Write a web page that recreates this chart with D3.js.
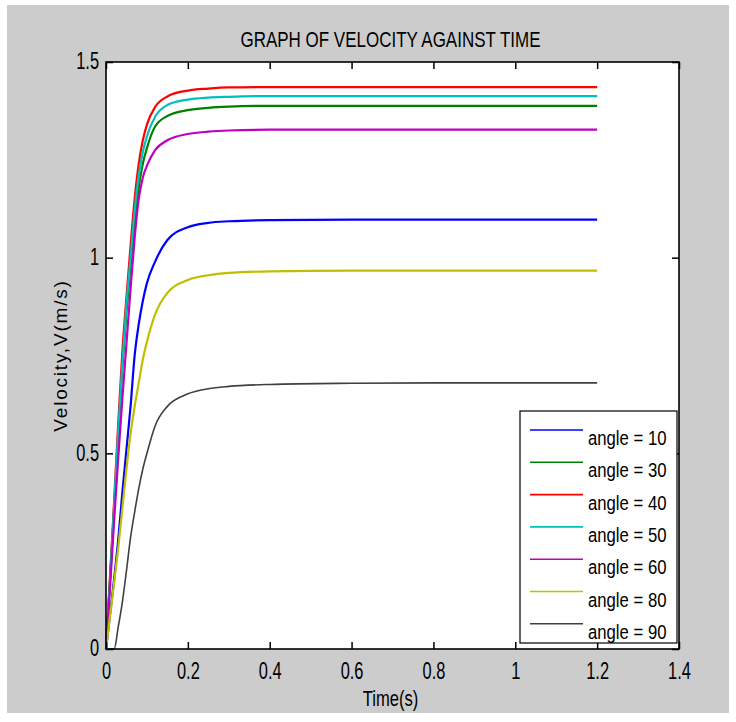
<!DOCTYPE html>
<html>
<head>
<meta charset="utf-8">
<script src="https://cdn.jsdelivr.net/npm/d3@7"></script>
<style>
    body { margin: 0; background: #ffffff; }
    svg { display: block; }
    text { font-family: "Liberation Sans", Arial, sans-serif; fill: #000; }
    .tick text { font-size: 20px; }
</style>
</head>
<body>
<div id="chart"></div>
<script>
// sample times (s) shared by every series
const times = [0, 0.01, 0.02, 0.03, 0.04, 0.05, 0.06, 0.07, 0.08, 0.09, 0.10, 0.12, 0.15, 0.20, 0.25, 0.30, 0.40, 0.60, 0.80, 1.00, 1.20];

// velocity, one list per launch angle
const angle10 = [0, 0.09, 0.18, 0.28, 0.40, 0.51, 0.62, 0.75, 0.83, 0.89, 0.935, 0.99, 1.045, 1.078, 1.089, 1.093, 1.096, 1.097, 1.097, 1.097, 1.097];
const angle30 = [0, 0.18, 0.36, 0.55, 0.72, 0.86, 0.98, 1.09, 1.18, 1.24, 1.28, 1.335, 1.362, 1.377, 1.383, 1.386, 1.388, 1.388, 1.388, 1.388, 1.388];
const angle40 = [0, 0.19, 0.38, 0.58, 0.76, 0.90, 1.03, 1.15, 1.24, 1.30, 1.34, 1.385, 1.412, 1.427, 1.432, 1.435, 1.436, 1.436, 1.436, 1.436, 1.436];
const angle50 = [0, 0.18, 0.37, 0.56, 0.73, 0.88, 1.00, 1.12, 1.21, 1.27, 1.31, 1.36, 1.39, 1.404, 1.409, 1.411, 1.413, 1.413, 1.413, 1.413, 1.413];
const angle60 = [0, 0.16, 0.33, 0.49, 0.64, 0.78, 0.92, 1.05, 1.15, 1.205, 1.235, 1.275, 1.30, 1.316, 1.322, 1.325, 1.327, 1.327, 1.327, 1.327, 1.327];
const angle80 = [0, 0.085, 0.17, 0.26, 0.36, 0.46, 0.55, 0.62, 0.68, 0.74, 0.785, 0.855, 0.91, 0.943, 0.955, 0.961, 0.965, 0.967, 0.967, 0.967, 0.967];
const angle90 = [0, 0, 0, 0.057, 0.12, 0.20, 0.285, 0.35, 0.41, 0.46, 0.50, 0.57, 0.62, 0.652, 0.665, 0.671, 0.676, 0.679, 0.68, 0.68, 0.68];

const seriesNames = ['angle = 10', 'angle = 30', 'angle = 40', 'angle = 50', 'angle = 60', 'angle = 80', 'angle = 90'];
const seriesValues = [angle10, angle30, angle40, angle50, angle60, angle80, angle90];
const seriesColors = ['#0000ff', '#008000', '#ff0000', '#00bfbf', '#bf00bf', '#bfbf00', '#404040'];

const xTicks = [0, 0.2, 0.4, 0.6, 0.8, 1, 1.2, 1.4];
const yTicks = [0, 0.5, 1, 1.5];

const W = 736, H = 722;
const plot = { left: 106, top: 62, right: 679, bottom: 649 };

const svg = d3.select('#chart')
    .append('svg')
    .attr('width', W)
    .attr('height', H);

// condensed text: no narrow font installed, so squeeze a normal one
function label(parent, x, y, str, size, sx, sy, anchor) {
    return parent.append('text')
        .attr('transform', `translate(${x},${y}) scale(${sx},${sy})`)
        .attr('text-anchor', anchor || 'start')
        .attr('font-size', size)
        .text(str);
}

// grey figure background
svg.append('rect')
    .attr('x', 7).attr('y', 5)
    .attr('width', 722).attr('height', 708)
    .attr('fill', '#cccccc');

const x = d3.scaleLinear().domain([0, 1.4]).range([plot.left, plot.right]);
const y = d3.scaleLinear().domain([0, 1.5]).range([plot.bottom, plot.top]);

svg.append('rect')
    .attr('x', plot.left).attr('y', plot.top)
    .attr('width', plot.right - plot.left).attr('height', plot.bottom - plot.top)
    .attr('fill', '#ffffff');

// curves
const line = d3.line()
    .x(d => x(d[0]))
    .y(d => y(d[1]))
    .curve(d3.curveMonotoneX);

seriesValues.forEach((vals, i) => {
    svg.append('path')
        .datum(times.map((t, j) => [t, vals[j]]))
        .attr('fill', 'none')
        .attr('stroke', seriesColors[i])
        .attr('stroke-width', i === 6 ? 1.6 : 2.2)
        .attr('d', line);
});

// axes, ticks pointing inward like a boxed plot
const fmt = d => String(d);

svg.append('g')
    .attr('transform', `translate(0,${plot.bottom})`)
    .call(d3.axisBottom(x).tickValues(xTicks).tickFormat(fmt).tickSizeInner(-7).tickSizeOuter(0).tickPadding(12))
    .call(g => g.selectAll('.tick text').attr('transform', 'scale(0.82,1.15)'));

svg.append('g')
    .attr('transform', `translate(0,${plot.top})`)
    .call(d3.axisTop(x).tickValues(xTicks).tickFormat('').tickSizeInner(-7).tickSizeOuter(0));

svg.append('g')
    .attr('transform', `translate(${plot.left},0)`)
    .call(d3.axisLeft(y).tickValues(yTicks).tickFormat(fmt).tickSizeInner(-7).tickSizeOuter(0).tickPadding(8.5))
    .call(g => g.selectAll('.tick text').attr('transform', 'scale(0.82,1.15)').attr('dy', '0.3em'));

svg.append('g')
    .attr('transform', `translate(${plot.right},0)`)
    .call(d3.axisRight(y).tickValues(yTicks).tickFormat('').tickSizeInner(-7).tickSizeOuter(0));

svg.selectAll('.domain').attr('stroke', 'none');
svg.selectAll('.tick line').attr('stroke', '#000').attr('stroke-width', 1.5);

svg.append('rect')
    .attr('x', plot.left).attr('y', plot.top)
    .attr('width', plot.right - plot.left).attr('height', plot.bottom - plot.top)
    .attr('fill', 'none')
    .attr('stroke', '#000')
    .attr('stroke-width', 1.6);

// title and axis labels
const midX = (plot.left + plot.right) / 2;
label(svg, midX - 2, 47, 'GRAPH OF VELOCITY AGAINST TIME', 20, 0.85, 1.1, 'middle');
label(svg, midX - 2, 706, 'Time(s)', 20, 0.83, 1.1, 'middle');

svg.append('text')
    .attr('transform', `translate(67,${(plot.top + plot.bottom) / 2}) rotate(-90)`)
    .attr('text-anchor', 'middle')
    .attr('font-size', 19)
    .attr('letter-spacing', 1.8)
    .text('Velocity,V(m/s)');

// legend
const legend = svg.append('g');
legend.append('rect')
    .attr('x', 520).attr('y', 411)
    .attr('width', 157).attr('height', 232)
    .attr('fill', '#ffffff')
    .attr('stroke', '#000')
    .attr('stroke-width', 1.2);

seriesNames.forEach((name, i) => {
    const ly = 430 + i * 32.3;
    legend.append('line')
        .attr('x1', 530).attr('x2', 583)
        .attr('y1', ly).attr('y2', ly)
        .attr('stroke', seriesColors[i])
        .attr('stroke-width', 1.6);
    label(legend, 588, ly + 15, name, 19, 0.88, 1.02);
});
</script>
</body>
</html>
